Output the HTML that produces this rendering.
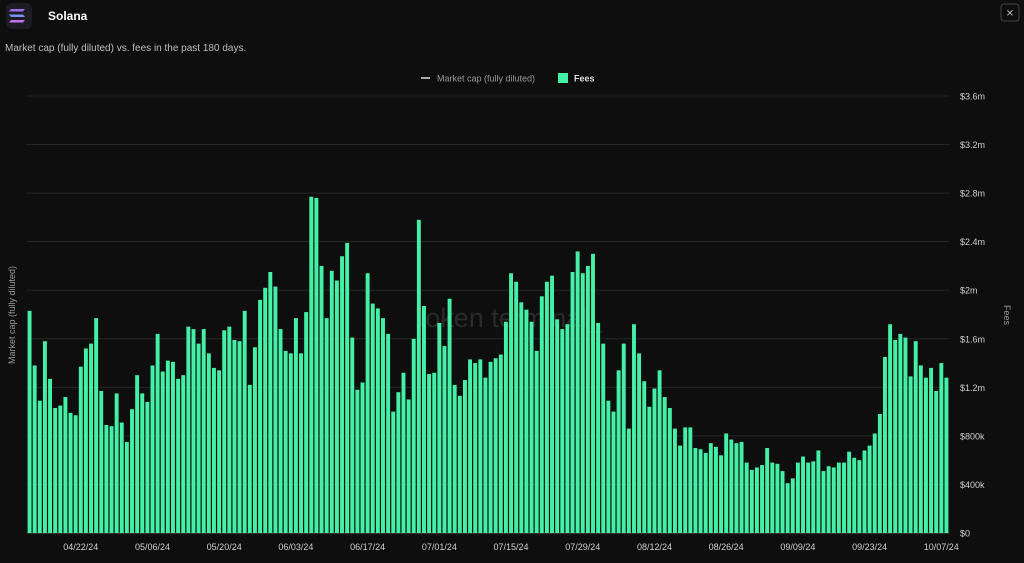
<!DOCTYPE html>
<html><head><meta charset="utf-8"><style>
html,body{margin:0;padding:0;background:#0e0e0e;width:1024px;height:563px;overflow:hidden;font-family:"Liberation Sans",sans-serif;}
</style></head><body>
<svg id="chart" width="1024" height="563" viewBox="0 0 1024 563" xmlns="http://www.w3.org/2000/svg">
<rect x="0" y="0" width="1024" height="563" fill="#0e0e0e"/>
<g>
<rect x="6" y="3" width="26" height="26" rx="6" fill="#1c1c22"/>
<path d="M11 9h14l-2 2.5H9z" fill="#9a6cf0"/><path d="M9 14.5h14l2 2.5H11z" fill="#7d8ff0"/><path d="M11 20h14l-2 2.5H9z" fill="#c070f0"/>
</g>
<text x="48" y="20" fill="#fff" font-size="12" font-weight="bold">Solana</text>
<text x="5" y="51" fill="#bdbdbd" font-size="10">Market cap (fully diluted) vs. fees in the past 180 days.</text>
<g><rect x="1001" y="4" width="18" height="17" rx="3" fill="none" stroke="#444"/><text x="1010" y="16.5" fill="#bbb" font-size="10" text-anchor="middle">✕</text></g>
<g>
<g><line x1="421" y1="78" x2="430" y2="78" stroke="#ddd" stroke-width="1.5"/><text x="437" y="81.5" fill="#9a9a9a" font-size="9">Market cap (fully diluted)</text></g>
<g><rect x="558" y="73" width="10" height="10" fill="#43f0a6"/><text x="574" y="81.5" fill="#ddd" font-size="9" font-weight="bold">Fees</text></g>
</g>
<text x="510" y="327" fill="#2a2a2a" font-size="27" text-anchor="middle">token terminal_</text>
<text transform="translate(15,315) rotate(-90)" fill="#9a9a9a" font-size="9" text-anchor="middle">Market cap (fully diluted)</text>
<text transform="translate(1004,315) rotate(90)" fill="#9a9a9a" font-size="9" text-anchor="middle">Fees</text>
<g id="grid"></g><g id="bars"></g><g id="yticks"></g><g id="xticks"></g>
</svg>
<script>
const yTicks=[0,0.4,0.8,1.2,1.6,2.0,2.4,2.8,3.2,3.6];
const yTickLabels=["$0","$400k","$800k","$1.2m","$1.6m","$2m","$2.4m","$2.8m","$3.2m","$3.6m"];
const xTickLabels=["04/22/24","05/06/24","05/20/24","06/03/24","06/17/24","07/01/24","07/15/24","07/29/24","08/12/24","08/26/24","09/09/24","09/23/24","10/07/24"];
const xTickIndex=[10,24,38,52,66,80,94,108,122,136,150,164,178];
const fees=[1.83,1.38,1.09,1.58,1.27,1.03,1.05,1.12,0.99,0.97,1.37,1.52,1.56,1.77,1.17,0.89,0.88,1.15,0.91,0.75,1.02,1.30,1.15,1.08,1.38,1.64,1.33,1.42,1.41,1.27,1.30,1.70,1.68,1.56,1.68,1.48,1.36,1.34,1.67,1.70,1.59,1.58,1.83,1.22,1.53,
1.92,2.02,2.15,2.03,1.68,1.50,1.48,1.77,1.48,1.82,2.77,2.76,2.20,1.77,2.16,2.08,2.28,2.39,1.61,1.18,1.24,2.14,1.89,1.85,1.77,1.64,1.00,1.16,1.32,1.10,1.60,2.58,1.87,1.31,1.32,1.73,1.54,1.93,1.22,1.13,1.26,1.43,1.40,1.43,1.28,1.41,1.44,1.47,1.74,2.14,
2.07,1.90,1.84,1.74,1.50,1.95,2.07,2.12,1.76,1.68,1.72,2.15,2.32,2.14,2.20,2.30,1.73,1.56,1.09,1.00,1.34,1.56,0.86,1.72,1.48,1.25,1.04,1.19,1.34,1.12,1.03,0.86,0.72,0.87,0.87,0.70,0.69,0.66,0.74,0.71,0.64,0.82,0.77,0.74,0.75,0.58,
0.52,0.54,0.56,0.70,0.58,0.57,0.51,0.41,0.45,0.58,0.63,0.58,0.59,0.68,0.51,0.55,0.54,0.58,0.58,0.67,0.62,0.60,0.68,0.72,0.82,0.98,1.45,1.72,1.59,1.64,1.61,1.29,1.58,1.38,1.28,1.36,1.17,1.40,1.28];
const NS="http://www.w3.org/2000/svg";
const x0=27,x1=949,yBase=533,yTop=96,yMax=3.6;
const n=fees.length,step=(x1-x0)/n;
function yScale(v){return yBase-(v/yMax)*(yBase-yTop);}
function xScale(i){return x0+i*step;}
const grid=document.getElementById('grid'),bars=document.getElementById('bars'),yt=document.getElementById('yticks'),xt=document.getElementById('xticks');
yTicks.forEach((v,i)=>{
 const l=document.createElementNS(NS,'line');
 l.setAttribute('x1',x0);l.setAttribute('x2',x1);l.setAttribute('y1',yScale(v));l.setAttribute('y2',yScale(v));
 l.setAttribute('stroke',i===0?'#555':'#272727');l.setAttribute('stroke-width','1');
 
 
 grid.appendChild(l);
 const t=document.createElementNS(NS,'text');
 t.setAttribute('x',960);t.setAttribute('y',yScale(v)+3.5);t.setAttribute('fill','#d0d0d0');t.setAttribute('font-size','9');
 t.textContent=yTickLabels[i];
 
 
 yt.appendChild(t);
});
fees.forEach((v,i)=>{
 const r=document.createElementNS(NS,'rect');
 r.setAttribute('x',xScale(i)+0.6);r.setAttribute('width',step-1.2);
 r.setAttribute('y',yScale(v));r.setAttribute('height',yBase-yScale(v));
 r.setAttribute('fill','#43f0a6');
 
 
 bars.appendChild(r);
});
xTickLabels.forEach((s,k)=>{
 const cx=xScale(xTickIndex[k])+step/2;
 const t=document.createElementNS(NS,'text');
 t.setAttribute('x',cx);t.setAttribute('y',550);t.setAttribute('fill','#d0d0d0');t.setAttribute('font-size','9');t.setAttribute('text-anchor','middle');
 t.textContent=s;
 
 
 xt.appendChild(t);
});
</script>
</body></html>
